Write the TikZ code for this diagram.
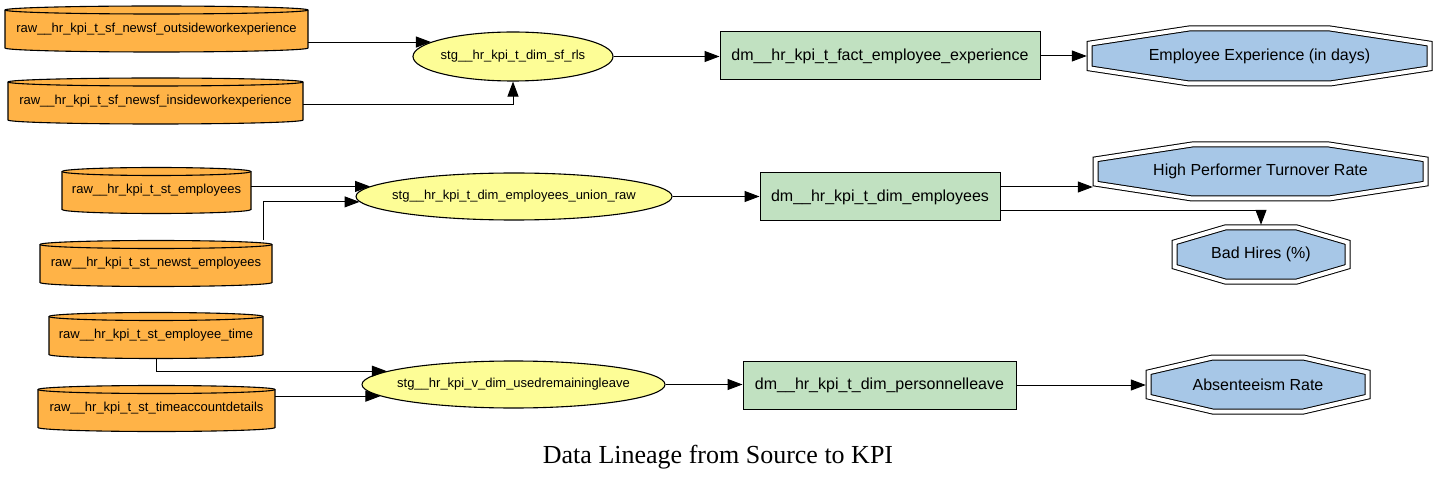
\documentclass[tikz,border=0pt]{standalone}
\usepackage{fontspec}
\setmainfont{Liberation Serif}
\newfontfamily\arialf{Liberation Sans}
\usetikzlibrary{shapes.geometric,arrows.meta,calc}
\definecolor{rawc}{HTML}{FFB347}
\definecolor{stgc}{HTML}{FDFD96}
\definecolor{dmc}{HTML}{C1E1C1}
\definecolor{kpic}{HTML}{A7C7E7}
\tikzset{
  cyltext/.style={font=\arialf\fontsize{13}{15}\selectfont, inner sep=0pt, minimum height=46pt},
  cylbody/.style={fill=rawc, draw=black, line width=1.1pt},
  cyledge/.style={draw=black, line width=1.1pt},
  stg/.style={ellipse, draw=black, line width=1.1pt, fill=stgc, inner sep=0pt,
    font=\arialf\fontsize{13}{15}\selectfont},
  dm/.style={rectangle, draw=black, line width=1pt, fill=dmc, inner sep=0pt,
    minimum height=48pt, font=\arialf\fontsize{16}{18}\selectfont},
  octbody/.style={fill=kpic, draw=black, double=white, double distance=4pt, line width=1pt},
  octtext/.style={inner sep=0pt, font=\arialf\fontsize{16}{18}\selectfont},
  edge/.style={-{Triangle[length=15pt,width=11pt]}, line width=1pt},
  titlestyle/.style={inner sep=0pt, font=\fontsize{26}{30}\selectfont}
}
% #1 name, #2 cx, #3 cy (pixels down), #4 half width, #5 text
\newcommand\cylnode[5]{%
  \path[cylbody] ({#2-#4},{-#3+19}) -- ({#2-#4},{-#3-19})
     arc[start angle=180,end angle=360,x radius=#4,y radius=4]
     -- ({#2+#4},{-#3+19})
     arc[start angle=0,end angle=180,x radius=#4,y radius=4] -- cycle;
  \draw[cyledge] ({#2-#4},{-#3+19}) arc[start angle=180,end angle=360,x radius=#4,y radius=4];
  \node[cyltext, minimum width={2*#4pt}] (#1) at (#2,-#3) {#5};
}
% #1 name, #2 cx, #3 cy (pixels down), #4 outer half width, #5 outer half height, #6 text
\newcommand\octnode[6]{%
  \pgfmathsetmacro\octA{#4-2.5}\pgfmathsetmacro\octB{#5-2.5}%
  \pgfmathsetmacro\octKA{0.415*\octA}\pgfmathsetmacro\octKB{0.45*\octB}%
  \path[octbody] ($(#2,-#3)+(\octA,\octKB)$) -- ($(#2,-#3)+(\octKA,\octB)$)
     -- ($(#2,-#3)+(-\octKA,\octB)$) -- ($(#2,-#3)+(-\octA,\octKB)$)
     -- ($(#2,-#3)+(-\octA,-\octKB)$) -- ($(#2,-#3)+(-\octKA,-\octB)$)
     -- ($(#2,-#3)+(\octKA,-\octB)$) -- ($(#2,-#3)+(\octA,-\octKB)$) -- cycle;
  \node[octtext, minimum width={2*#4pt}, minimum height={2*#5pt}] (#1) at (#2,-#3) {#6};
}
\begin{document}
\begin{tikzpicture}[x=1pt,y=1pt]
\useasboundingbox (0,0) rectangle (1439,-478);

% sources
\cylnode{c1}{156.5}{29}{151.5}{raw\_\_hr\_kpi\_t\_sf\_newsf\_outsideworkexperience}
\cylnode{c2}{155.5}{101}{147.5}{raw\_\_hr\_kpi\_t\_sf\_newsf\_insideworkexperience}
\cylnode{c3}{156.5}{190.5}{94.5}{raw\_\_hr\_kpi\_t\_st\_employees}
\cylnode{c4}{156}{263.5}{116}{raw\_\_hr\_kpi\_t\_st\_newst\_employees}
\cylnode{c5}{156}{335.5}{107}{raw\_\_hr\_kpi\_t\_st\_employee\_time}
\cylnode{c6}{156.5}{408.5}{118.5}{raw\_\_hr\_kpi\_t\_st\_timeaccountdetails}

% staging
\node[stg, minimum width=200pt, minimum height=49pt] (e1) at (513,-56.5) {\makebox[0pt]{stg\_\_hr\_kpi\_t\_dim\_sf\_rls}};
\node[stg, minimum width=316pt, minimum height=47pt] (e2) at (514,-196.5) {\makebox[0pt]{stg\_\_hr\_kpi\_t\_dim\_employees\_union\_raw}};
\node[stg, minimum width=303pt, minimum height=47pt] (e3) at (513.5,-384.5) {\makebox[0pt]{stg\_\_hr\_kpi\_v\_dim\_usedremainingleave}};

% marts
\node[dm, minimum width=320pt] (r1) at (880,-56) {dm\_\_hr\_kpi\_t\_fact\_employee\_experience};
\node[dm, minimum width=240pt] (r2) at (880,-197) {dm\_\_hr\_kpi\_t\_dim\_employees};
\node[dm, minimum width=273pt] (r3) at (879.5,-385) {dm\_\_hr\_kpi\_t\_dim\_personnelleave};

% KPIs
\octnode{o1}{1259.5}{56}{172.5}{30}{Employee Experience (in days)}
\octnode{o2}{1260.5}{171.5}{167.5}{29.5}{High Performer Turnover Rate}
\octnode{o3}{1261}{254.5}{89}{29.5}{Bad Hires (\%)}
\octnode{o4}{1258}{384.5}{112}{29.5}{Absenteeism Rate}

% connectors
\draw[edge] (c1.east |- e1.170.8) -- (e1.170.8);
\draw[edge] ([yshift=-4pt]c2.east) -| (e1.south);
\draw[edge] (e1.east) -- (e1.east -| r1.west);
\draw[edge] (r1.east) -- (r1.east -| o1.west);

\draw[edge] (c3.east |- e2.176.24) -- (e2.176.24);
\draw[edge] ([xshift=107pt]c4.north) |- (e2.182.05);
\draw[edge] (e2.east) -- (e2.east -| r2.west);
\draw[edge] ([yshift=10pt]r2.east) -- ([yshift=10pt]r2.east -| o2.west);
\draw[edge] ([yshift=-14pt]r2.east) -| (o3.north);

\draw[edge] (c5.south) |- (e3.174.44);
\draw[edge] (c6.east |- e3.185.56) -- (e3.185.56);
\draw[edge] (e3.east) -- (e3.east -| r3.west);
\draw[edge] (r3.east) -- (r3.east -| o4.west);

\node[titlestyle, anchor=base] (title) at (718,-463) {Data Lineage from Source to KPI};
\end{tikzpicture}
\end{document}
